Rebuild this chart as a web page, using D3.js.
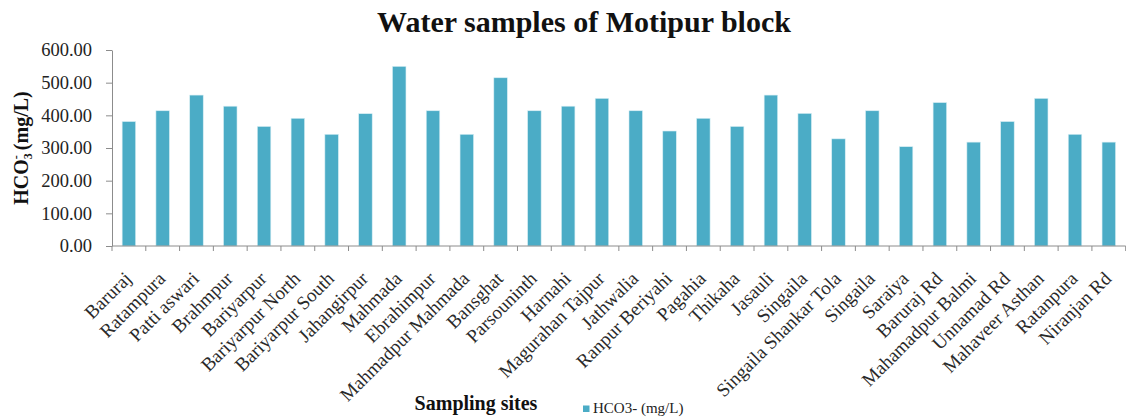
<!DOCTYPE html>
<html><head><meta charset="utf-8">
<script src="https://cdn.jsdelivr.net/npm/d3@7/dist/d3.min.js"></script>
<style>body{margin:0;background:#fff}svg{display:block}</style>
</head><body>
<svg id="c" width="1126" height="418"></svg>
<script>
const categories = ["Baruraj","Ratampura","Patti aswari","Brahmpur","Bariyarpur","Bariyarpur North","Bariyarpur South","Jahangirpur","Mahmada","Ebrahimpur","Mahmadpur Mahmada","Bansghat","Parsouninth","Harnahi","Magurahan Tajpur","Jathwalia","Ranpur Beriyahi","Pagahia","Thikaha","Jasauli","Singaila","Singaila Shankar Tola","Singaila","Saraiya","Baruraj Rd","Mahamadpur Balmi","Unnamad Rd","Mahaveer Asthan","Ratanpura","Niranjan Rd"];
const hco3 = [381,414,462,428,366,391,342,405,550,414,342,515,414,428,452,414,352,391,366,462,406,328,414,304,439,318,381,452,342,318];
const yTicks = [0,100,200,300,400,500,600];

const svg = d3.select("#c");
const serif = "'Liberation Serif','Times New Roman',serif";
const mL = 112, mR = 1125.7, mT = 50, mB = 246;
const idx = categories.map((d,i)=>i);
const x = d3.scaleBand().domain(idx).range([mL,mR]).paddingInner(0.6).paddingOuter(0.3);
const y = d3.scaleLinear().domain([0,600]).range([mB,mT]);

// bars
svg.append("g").selectAll("rect").data(hco3).join("rect")
  .attr("x",(d,i)=>x(i)).attr("width",x.bandwidth())
  .attr("y",d=>y(d)).attr("height",d=>y(0)-y(d))
  .attr("fill","#4BACC6").attr("stroke","#d8eef4").attr("stroke-width",0.6);

// y axis
const ya = svg.append("g").attr("transform",`translate(${mL},0)`)
  .call(d3.axisLeft(y).tickValues(yTicks).tickFormat(d3.format(".2f")).tickSize(6).tickPadding(14).tickSizeOuter(0));
ya.attr("font-family",null).attr("font-size",null);
ya.select(".domain").attr("stroke","#8c8c8c");
ya.selectAll(".tick line").attr("stroke","#8c8c8c");
ya.selectAll(".tick text").style("font-family",serif).style("font-size","18.5px").attr("fill","#222");

// x axis with ticks at category boundaries
const xa = svg.append("g").attr("transform",`translate(0,${mB})`);
xa.append("line").attr("x1",mL).attr("x2",mR).attr("stroke","#8c8c8c").attr("stroke-width",1);
const stepW = (mR-mL)/categories.length;
xa.selectAll("line.tk").data(d3.range(categories.length+1)).join("line").attr("class","tk")
  .attr("x1",i=>mL+i*stepW).attr("x2",i=>mL+i*stepW)
  .attr("y1",0).attr("y2",5).attr("stroke","#8c8c8c");
xa.selectAll("text").data(categories).join("text")
  .attr("transform",(d,i)=>`translate(${x(i)+x.bandwidth()/2-1},${29}) rotate(-45)`)
  .attr("text-anchor","end").style("font-family",serif).style("font-size","19px").attr("fill","#2a2a2a")
  .attr("dy","0.35em").text(d=>d);

// title
svg.append("text").attr("x",584).attr("y",32).attr("text-anchor","middle")
  .style("font-family",serif).attr("font-weight","bold").style("font-size","30px").attr("fill","#111")
  .text("Water samples of Motipur block");

// y label
const yl = svg.append("text").attr("transform",`translate(28,${(mT+mB)/2}) rotate(-90)`)
  .attr("text-anchor","middle").style("font-family",serif).attr("font-weight","bold").style("font-size","20px").attr("fill","#111");
yl.append("tspan").text("HCO");
yl.append("tspan").style("font-size","12px").attr("dy",4).text("3");
yl.append("tspan").style("font-size","12px").attr("dy",-12).attr("dx",-6).text("-");
yl.append("tspan").attr("dy",8).text(" (mg/L)");

// x title
svg.append("text").attr("x",476).attr("y",410).attr("text-anchor","middle")
  .style("font-family",serif).attr("font-weight","bold").style("font-size","20px").attr("fill","#111")
  .text("Sampling sites");

// legend
svg.append("rect").attr("x",583).attr("y",405.5).attr("width",6.5).attr("height",6.5).attr("fill","#4BACC6");
svg.append("text").attr("x",593).attr("y",413).style("font-family",serif).style("font-size","15px").attr("fill","#222")
  .text("HCO3- (mg/L)");
</script>
</body></html>
